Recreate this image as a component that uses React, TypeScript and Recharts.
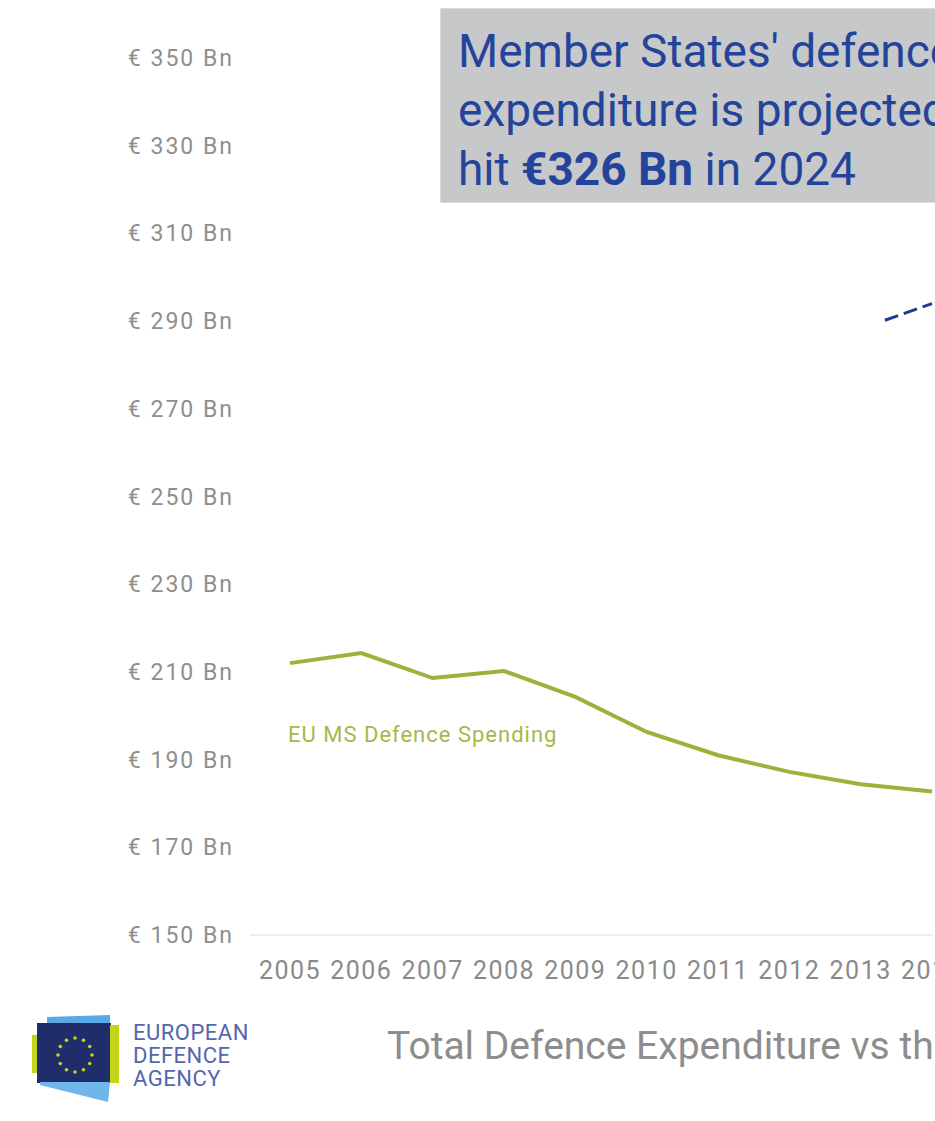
import { LineChart, Line, XAxis, YAxis } from 'recharts';

const years = [2005, 2006, 2007, 2008, 2009, 2010, 2011, 2012, 2013, 2014];
const spending = [212.0, 214.3, 208.6, 210.2, 204.3, 196.3, 191.0, 187.2, 184.4, 182.7];

const projYears = [2013.34, 2014];
const projection = [290.2, 294.0];

const yTicks = [150, 170, 190, 210, 230, 250, 270, 290, 310, 330, 350];

const spendingData = years.map((year, i) => ({ year, value: spending[i] }));
const projData = projYears.map((year, i) => ({ year, value: projection[i] }));

const FONT = 'Roboto, "Noto Sans", sans-serif';

function YTick({ x, y, payload }: any) {
  return (
    <text x={x - 16} y={y} dy="0.35em" textAnchor="end" fill="#8f8f8f"
      fontSize={23} fontFamily={FONT} style={{ letterSpacing: 2 }}>
      {`€ ${payload.value} Bn`}
    </text>
  );
}

function XTick({ x, y, payload }: any) {
  return (
    <text x={x} y={y + 44} textAnchor="middle" fill="#8a8a8a"
      fontSize={25} fontFamily={FONT} style={{ letterSpacing: 1.5 }}>
      {payload.value}
    </text>
  );
}

function Logo() {
  return (
    <svg width={110} height={100} style={{ position: 'absolute', left: 20, top: 1005 }}>
      <polygon points="27,12 90,10 90,20 27,20" fill="#5aa9e6" />
      <rect x={12} y={30} width={6} height={38} fill="#c5d41a" />
      <rect x={17} y={18} width={74} height={60} fill="#1f2d6b" />
      <rect x={90} y={20} width={9} height={58} fill="#c5d41a" />
      <polygon points="20,77 90,77 88,97 20,80" fill="#6fb6ea" />
      {Array.from({ length: 12 }).map((_, i) => {
        const a = (i / 12) * Math.PI * 2;
        return <circle key={i} cx={55 + 17 * Math.cos(a)} cy={50 + 17 * Math.sin(a)} r={1.8} fill="#c5d41a" />;
      })}
    </svg>
  );
}

export default function App() {
  return (
    <div style={{ position: 'absolute', left: 0, top: 0, width: 935, height: 1121, overflow: 'hidden', background: '#fff', fontFamily: FONT }}>
      <LineChart width={1000} height={995} margin={{ top: 58, right: 68, bottom: 0, left: 0 }}>
        <XAxis dataKey="year" type="number" domain={[2005, 2014]} ticks={years} interval={0}
          padding={{ left: 40, right: 0 }}
          axisLine={{ stroke: '#ededed', strokeWidth: 2 }} tickLine={false} tickSize={0} tickMargin={0}
          tick={<XTick />} height={60} />
        <YAxis type="number" domain={[150, 350]} ticks={yTicks} interval={0} width={250}
          axisLine={false} tickLine={false} tickSize={0} tickMargin={0} tick={<YTick />} />
        <Line data={spendingData} dataKey="value" type="linear" stroke="#9db23a" strokeWidth={4}
          dot={false} activeDot={false} isAnimationActive={false} />
        <Line data={projData} dataKey="value" type="linear" stroke="#1d3c8f" strokeWidth={3}
          strokeDasharray="14 6" dot={false} activeDot={false} isAnimationActive={false} />
      </LineChart>

      <div style={{ position: 'absolute', left: 288, top: 721, fontSize: 22, letterSpacing: 1, color: '#a5b84a', lineHeight: '27px', whiteSpace: 'nowrap' }}>
        EU MS Defence Spending
      </div>

      <div style={{ position: 'absolute', left: 440, top: 8, width: 620, height: 195, background: '#c7c8ca', border: '1px solid #dcdcdc', boxSizing: 'border-box', padding: '13px 0 0 17px', color: '#23449a', fontSize: 46, lineHeight: '59px', whiteSpace: 'nowrap' }}>
        <div>Member States' defence</div>
        <div>expenditure is projected to</div>
        <div>hit <b>€326 Bn</b> in 2024</div>
      </div>

      <Logo />
      <div style={{ position: 'absolute', left: 133, top: 1021, color: '#5466ad', fontSize: 22, letterSpacing: 0.5, lineHeight: '23px' }}>
        <div>EUROPEAN</div>
        <div>DEFENCE</div>
        <div>AGENCY</div>
      </div>

      <div style={{ position: 'absolute', left: 387, top: 1023, color: '#8d8d8d', fontSize: 39, lineHeight: '46px', whiteSpace: 'nowrap' }}>
        Total Defence Expenditure vs the 2% GDP benchmark
      </div>
    </div>
  );
}
